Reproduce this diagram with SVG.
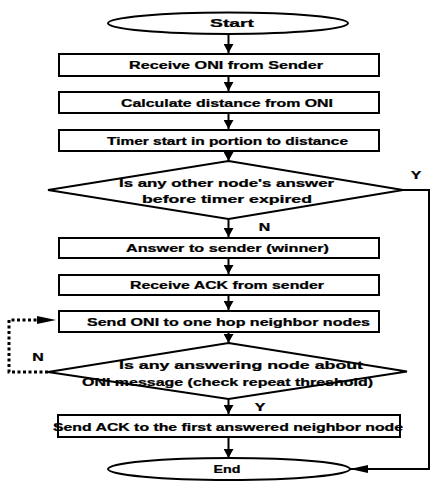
<svg xmlns="http://www.w3.org/2000/svg" width="431" height="481" viewBox="0 0 431 481">
<style>
.box{fill:#fff;stroke:#000;stroke-width:2}
.dia{fill:#fff;stroke:#000;stroke-width:1.8}
.ell{fill:#fff;stroke:#000;stroke-width:2}
.t{font-family:"Liberation Sans",Arial,sans-serif;font-weight:bold;font-size:11px;text-anchor:middle;fill:#000;stroke:#000;stroke-width:0.25}
.ln{fill:none;stroke:#000;stroke-width:2}
.v{marker-end:url(#av)}
.h{marker-end:url(#ah)}
.dot{fill:none;stroke:#000;stroke-width:3;stroke-dasharray:3 2.5}
</style>
<defs>
<marker id="av" markerUnits="userSpaceOnUse" markerWidth="12" markerHeight="10" refX="10" refY="5.5" orient="auto" viewBox="0 0 10 11">
<path d="M0,0 L10,5.5 L0,11 z" fill="#000"/>
</marker>
<marker id="ah" markerUnits="userSpaceOnUse" markerWidth="18" markerHeight="8" refX="18" refY="4" orient="auto" viewBox="0 0 18 8">
<path d="M0,0 L18,4 L0,8 z" fill="#000"/>
</marker>
</defs>
<rect width="431" height="481" fill="#fff"/>
<g id="connectors">
<line class="ln v" x1="228.5" y1="34" x2="228.5" y2="53"/>
<line class="ln v" x1="228.5" y1="76" x2="228.5" y2="91"/>
<line class="ln v" x1="228.5" y1="113" x2="228.5" y2="129"/>
<line class="ln v" x1="228.5" y1="151" x2="228.5" y2="161"/>
<line class="ln v" x1="228.5" y1="219" x2="228.5" y2="237"/>
<line class="ln v" x1="228.5" y1="258" x2="228.5" y2="274"/>
<line class="ln v" x1="228.5" y1="295" x2="228.5" y2="310"/>
<line class="ln v" x1="228.5" y1="332" x2="228.5" y2="343"/>
<line class="ln v" x1="228.5" y1="399" x2="228.5" y2="414"/>
<line class="ln v" x1="228.5" y1="437" x2="228.5" y2="458"/>
<polyline class="ln h" stroke-width="2.5" points="403,190 429,190 429,469 350,469"/>
<polyline class="dot" points="48,372 9,372 9,320 38,320"/>
<path d="M37,316 L56,320 L37,324 z" fill="#000"/>
<text class="t" transform="translate(416,179) scale(1.45,1)" font-size="12">Y</text>
<text class="t" transform="translate(264.5,231) scale(1.45,1)" font-size="12">N</text>
<text class="t" transform="translate(38,361) scale(1.45,1)" font-size="12">N</text>
<text class="t" transform="translate(260,411) scale(1.45,1)" font-size="12">Y</text>
</g>
<g id="start">
<ellipse class="ell" cx="228" cy="23.3" rx="120" ry="10.7"/>
<text class="t" transform="translate(232,27.3) scale(1.45,1)" textLength="30.3" lengthAdjust="spacingAndGlyphs">Start</text>
</g>
<g id="receive-oni">
<rect class="box" x="59" y="54" width="320" height="22"/>
<text class="t" transform="translate(226,69) scale(1.45,1)" textLength="133.8" lengthAdjust="spacingAndGlyphs">Receive ONI from Sender</text>
</g>
<g id="calc-distance">
<rect class="box" x="59" y="92" width="320" height="21"/>
<text class="t" transform="translate(227,106.5) scale(1.45,1)" textLength="146.2" lengthAdjust="spacingAndGlyphs">Calculate distance from ONI</text>
</g>
<g id="timer-start">
<rect class="box" x="59" y="130" width="320" height="21"/>
<text class="t" transform="translate(227.5,144.5) scale(1.45,1)" textLength="166.2" lengthAdjust="spacingAndGlyphs">Timer start in portion to distance</text>
</g>
<g id="decision-1">
<polygon class="dia" points="228.5,161 403,190 228.5,219 48,190"/>
<text class="t" transform="translate(226.5,187) scale(1.45,1)" textLength="148.3" lengthAdjust="spacingAndGlyphs">Is any other node's answer</text>
<text class="t" transform="translate(227,202.5) scale(1.45,1)" textLength="117.2" lengthAdjust="spacingAndGlyphs">before timer expired</text>
</g>
<g id="answer-sender">
<rect class="box" x="59" y="238" width="320" height="20"/>
<text class="t" transform="translate(227.5,252) scale(1.45,1)" textLength="140" lengthAdjust="spacingAndGlyphs">Answer to sender (winner)</text>
</g>
<g id="receive-ack">
<rect class="box" x="59" y="275" width="320" height="20"/>
<text class="t" transform="translate(227,289) scale(1.45,1)" textLength="133.8" lengthAdjust="spacingAndGlyphs">Receive ACK from sender</text>
</g>
<g id="send-oni">
<rect class="box" x="59" y="311" width="320" height="21"/>
<text class="t" transform="translate(228.5,325.5) scale(1.45,1)" textLength="195.2" lengthAdjust="spacingAndGlyphs">Send ONI to one hop neighbor nodes</text>
</g>
<g id="decision-2">
<polygon class="dia" points="228.5,343 407,371.5 228.5,399 48,372"/>
<text class="t" transform="translate(241,369) scale(1.45,1)" textLength="168.3" lengthAdjust="spacingAndGlyphs">Is any answering node about</text>
<text class="t" transform="translate(227.5,385.5) scale(1.45,1)" textLength="200.7" lengthAdjust="spacingAndGlyphs">ONI message (check repeat threshold)</text>
</g>
<g id="send-ack">
<rect class="box" x="58" y="415" width="342" height="22"/>
<text class="t" transform="translate(228,430.5) scale(1.45,1)" textLength="241.4" lengthAdjust="spacingAndGlyphs">Send ACK to the first answered neighbor node</text>
</g>
<g id="end">
<ellipse class="ell" cx="229" cy="469" rx="121" ry="11"/>
<text class="t" transform="translate(227,473) scale(1.45,1)" textLength="18.6" lengthAdjust="spacingAndGlyphs">End</text>
</g>
</svg>
